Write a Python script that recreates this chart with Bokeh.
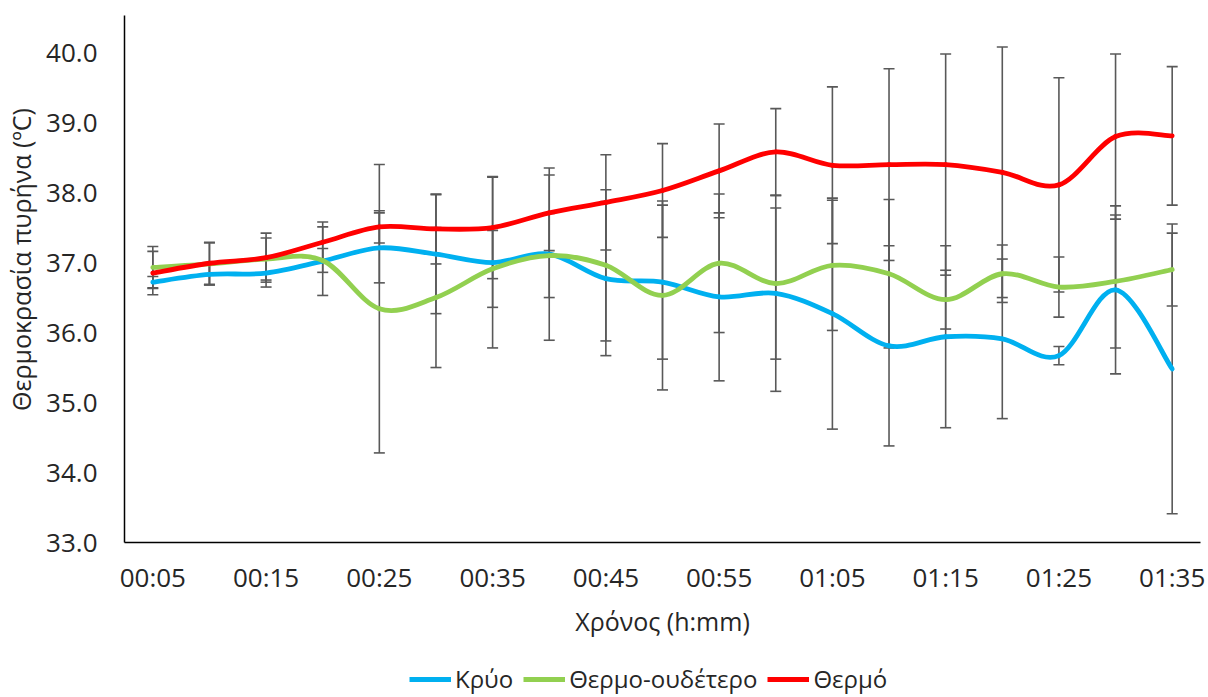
import numpy as np
from bokeh.plotting import figure
from bokeh.layouts import column
from bokeh.models import (ColumnDataSource, Range1d, FixedTicker, Whisker, TeeHead,
                          Legend, LegendItem)
from bokeh.embed import file_html
from bokeh.resources import INLINE

# ---- data ----
times = ["00:05", "00:10", "00:15", "00:20", "00:25", "00:30", "00:35", "00:40",
         "00:45", "00:50", "00:55", "01:00", "01:05", "01:10", "01:15", "01:20",
         "01:25", "01:30", "01:35"]
kryo = [36.72, 36.83, 36.85, 37.02, 37.21, 37.12, 37.00, 37.12, 36.77, 36.72,
        36.51, 36.56, 36.27, 35.81, 35.94, 35.91, 35.67, 36.61, 35.48]
kryo_err = [0.08, 0.15, 0.20, 0.49, 0.50, 0.85, 1.22, 1.23, 1.10, 1.10,
            1.20, 1.40, 1.65, 1.43, 1.30, 1.14, 0.13, 1.20, 2.07]
oudetero = [36.93, 36.98, 37.05, 37.03, 36.34, 36.50, 36.91, 37.10, 36.96, 36.53,
            36.99, 36.70, 36.96, 36.84, 36.47, 36.84, 36.65, 36.73, 36.90]
oudetero_err = [0.30, 0.30, 0.30, 0.17, 2.06, 1.00, 0.55, 0.60, 1.08, 1.35,
                0.99, 1.08, 0.93, 1.06, 0.42, 0.41, 0.43, 0.95, 0.52]
thermo = [36.85, 36.99, 37.07, 37.29, 37.51, 37.48, 37.50, 37.71, 37.86, 38.03,
          38.31, 38.58, 38.39, 38.40, 38.40, 38.29, 38.11, 38.80, 38.81]
thermo_err = [0.31, 0.30, 0.35, 0.29, 0.23, 0.50, 0.73, 0.54, 0.68, 0.67,
              0.67, 0.62, 1.12, 1.37, 1.58, 1.79, 1.53, 1.18, 0.99]
series_names = ["Κρύο", "Θερμο-ουδέτερο", "Θερμό"]
series_colors = ["#00B0F0", "#92D050", "#FF0000"]
y_ticks = [33, 34, 35, 36, 37, 38, 39, 40]

FONT = "Open Sans"
TXT = "#262626"

x = np.arange(1, len(times) + 1, dtype=float)

p = figure(width=1208, height=653, output_backend="svg", toolbar_location=None,
           x_range=Range1d(0.5, len(times) + 0.5), y_range=Range1d(33, 40.53),
           min_border_left=124, min_border_right=8, min_border_top=15,
           min_border_bottom=111)
p.outline_line_color = None
p.grid.visible = False
p.background_fill_color = "white"
p.border_fill_color = "white"

# axes
p.xaxis.ticker = FixedTicker(ticks=list(x[::2]))
p.xaxis.major_label_overrides = {float(v): times[int(v) - 1] for v in x[::2]}
p.yaxis.ticker = FixedTicker(ticks=y_ticks)
p.yaxis.major_label_overrides = {t: f"{t:.1f}" for t in y_ticks}
for ax in (p.xaxis, p.yaxis):
    ax.axis_line_color = "#000000"
    ax.axis_line_width = 1.5
    ax.major_tick_line_color = None
    ax.minor_tick_line_color = None
    ax.major_label_text_font = FONT
    ax.major_label_text_font_size = "26px"
    ax.major_label_text_color = TXT
    ax.axis_label_text_font = FONT
    ax.axis_label_text_font_size = "25px"
    ax.axis_label_text_font_style = "normal"
    ax.axis_label_text_color = TXT
p.xaxis.axis_label = "Χρόνος (h:mm)"
p.yaxis.axis_label = "\u00a0" * 6 + "Θερμοκρασία πυρήνα (ºC)"
p.yaxis.major_label_standoff = 21
p.xaxis.major_label_standoff = 10
p.yaxis.axis_label_standoff = 5
p.xaxis.axis_label_standoff = 6


def bezier_source(vals):
    v = np.asarray(vals, dtype=float)
    n = len(v)
    xp = np.concatenate([[x[0]], x, [x[-1]]])
    yp = np.concatenate([[v[0]], v, [v[-1]]])
    d = {"x0": [], "y0": [], "x1": [], "y1": [], "cx0": [], "cy0": [], "cx1": [], "cy1": []}
    for i in range(n - 1):
        j = i + 1
        d["x0"].append(xp[j]); d["y0"].append(yp[j])
        d["x1"].append(xp[j + 1]); d["y1"].append(yp[j + 1])
        d["cx0"].append(xp[j] + (xp[j + 1] - xp[j - 1]) / 6)
        d["cy0"].append(yp[j] + (yp[j + 1] - yp[j - 1]) / 6)
        d["cx1"].append(xp[j + 1] - (xp[j + 2] - xp[j]) / 6)
        d["cy1"].append(yp[j + 1] - (yp[j + 2] - yp[j]) / 6)
    return ColumnDataSource(d)


all_vals = [kryo, oudetero, thermo]
all_errs = [kryo_err, oudetero_err, thermo_err]

# error bars (under the lines)
for vals, errs in zip(all_vals, all_errs):
    v = np.asarray(vals); e = np.asarray(errs)
    src = ColumnDataSource(dict(x=x, upper=v + e, lower=v - e))
    w = Whisker(source=src, base="x", upper="upper", lower="lower",
                line_color="#595959", line_width=1.6,
                upper_head=TeeHead(size=11, line_color="#595959", line_width=1.6),
                lower_head=TeeHead(size=11, line_color="#595959", line_width=1.6))
    p.add_layout(w)

for vals, col in zip(all_vals, series_colors):
    p.bezier(x0="x0", y0="y0", x1="x1", y1="y1", cx0="cx0", cy0="cy0",
             cx1="cx1", cy1="cy1", source=bezier_source(vals),
             line_color=col, line_width=4.8, line_cap="round")

# legend strip below the chart
lg = figure(width=1208, height=44, output_backend="svg", toolbar_location=None,
            x_range=Range1d(0, 1), y_range=Range1d(0, 1),
            min_border_left=0, min_border_right=0, min_border_top=0,
            min_border_bottom=0, x_axis_type=None, y_axis_type=None)
lg.outline_line_color = None
lg.grid.visible = False
items = []
for name, col in zip(series_names, series_colors):
    lr = lg.line(x=[-1, -1], y=[-1, -1], line_color=col, line_width=4.8)
    items.append(LegendItem(label=name, renderers=[lr]))
legend = Legend(items=items, orientation="horizontal", location=(285, 2),
                label_text_font=FONT, label_text_font_size="24px",
                label_text_color=TXT, glyph_width=42, glyph_height=20,
                label_standoff=4, spacing=10, padding=0, margin=0,
                border_line_color=None, background_fill_alpha=0)
lg.add_layout(legend)

open("out.html", "w").write(file_html(column(p, lg, spacing=0), INLINE))
